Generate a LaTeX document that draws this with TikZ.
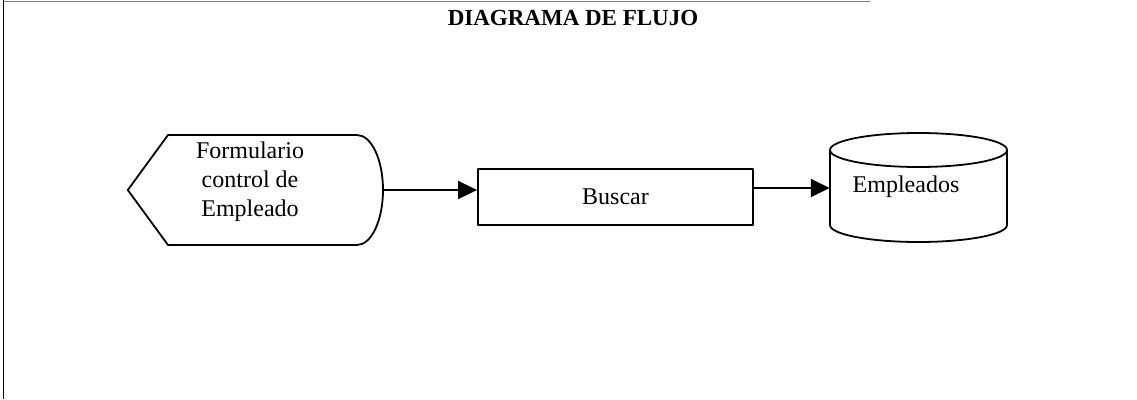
\documentclass[tikz,border=0pt]{standalone}
\usepackage{fontspec}
\setmainfont{Liberation Serif}
\usetikzlibrary{arrows.meta}
\begin{document}
\begin{tikzpicture}[x=1pt,y=1pt,
  outline/.style={line width=1.8pt,line join=round},
  conn/.style={line width=1.6pt,-{Triangle[length=19pt,width=18pt]}},
  lbl/.style={font=\fontsize{24}{29}\selectfont,align=center},
  ghost/.style={draw=none,inner sep=0pt}]
\useasboundingbox (0,0) rectangle (1137,-399);
% frame
\draw[line width=1.5pt] (3.5,0) -- (3.5,-399);
\draw[line width=1pt,gray] (3.5,-1) -- (870,-1);
\node[font=\fontsize{23}{27}\selectfont\bfseries] (title) at (573,-18) {DIAGRAMA DE FLUJO};
% display shape
\node[ghost,minimum width=255pt,minimum height=110pt] (disp) at (255.5,-190) {};
\draw[outline] (disp.west) -- (168,-135) -- (357,-135)
  arc[start angle=90,end angle=-90,x radius=26,y radius=55] -- (168,-245) -- cycle;
\node[lbl] (dispt) at (250,-182) {Formulario\\control de\\Empleado};
% process box
\node[draw,outline,minimum width=275pt,minimum height=56pt,inner sep=0pt,lbl] (bus) at (615.5,-197) {Buscar};
% cylinder
\node[ghost,minimum width=177pt,minimum height=110pt] (emp) at (918.5,-188) {};
\draw[outline] (830,-150) -- (830,-225) arc[start angle=180,end angle=360,x radius=88.5,y radius=17] -- (1007,-150);
\draw[outline] (918.5,-150) ellipse[x radius=88.5,y radius=17];
\node[lbl] (empt) at (906,-187) {Empleados};
% connectors
\draw[conn] (disp.east) -- (bus.west |- disp.east);
\draw[conn] (bus.east |- emp.west) -- (emp.west);
\end{tikzpicture}
\end{document}
